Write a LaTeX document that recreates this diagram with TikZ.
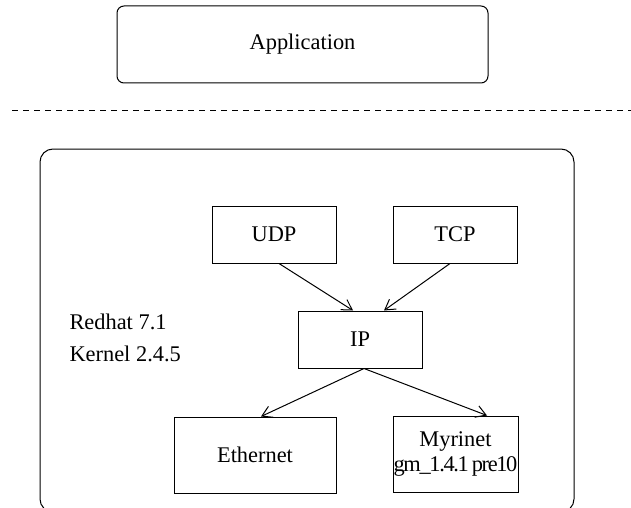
\documentclass[tikz,border=0pt]{standalone}
\usepackage{fontspec}
\setmainfont{Liberation Serif}
\usetikzlibrary{arrows.meta}
\begin{document}
\begin{tikzpicture}[x=0.5pt,y=-0.5pt,line width=0.5pt,
  font=\fontsize{11.2}{12.5}\selectfont,
  box/.style={draw,inner sep=0pt,minimum width=62pt,minimum height=28.5pt},
  >={Straight Barb[length=5pt,width=6pt]}]
\clip (0,0) rectangle (631,508);
\node[box,rounded corners=3.5pt,minimum width=185.5pt,minimum height=38.5pt](app) at(302.5,44.5){Application};
\coordinate (dl) at (12,111);
\coordinate (dr) at (631,111);
\draw[dash pattern=on 3pt off 2.5pt] (dl)--(dr);
\node[box,rounded corners=6.5pt,minimum width=267pt,minimum height=181.5pt](kern) at(307,330.5){};
\node[box](udp) at(274,234.5){UDP};
\node[box](tcp) at(455,234.5){TCP};
\node[box](ip) at(360,339.5){IP};
\node[box,minimum width=81pt,minimum height=38pt](eth) at(255,455){Ethernet};
\node[box,minimum width=62.5pt,minimum height=38pt,align=center](myr) at(455.5,454)
  {Myrinet\\{\addfontfeatures{LetterSpace=-6}gm\_1.4.1\hspace{1.5pt}pre10}};
\node[anchor=west,inner sep=0pt](rh) at(69,322){Redhat 7.1};
\node[anchor=west,inner sep=0pt](kv) at(69,354){Kernel 2.4.5};
\draw[->]([xshift=2.5pt]udp.south)--([xshift=-3.5pt]ip.north);
\draw[->]([xshift=-2.5pt]tcp.south)--([xshift=12pt]ip.north);
\foreach \t/\s in {eth/3pt,myr/15.75pt}
\draw[->]([xshift=2pt]ip.south)--([xshift=\s]\t.north);
\end{tikzpicture}
\end{document}
